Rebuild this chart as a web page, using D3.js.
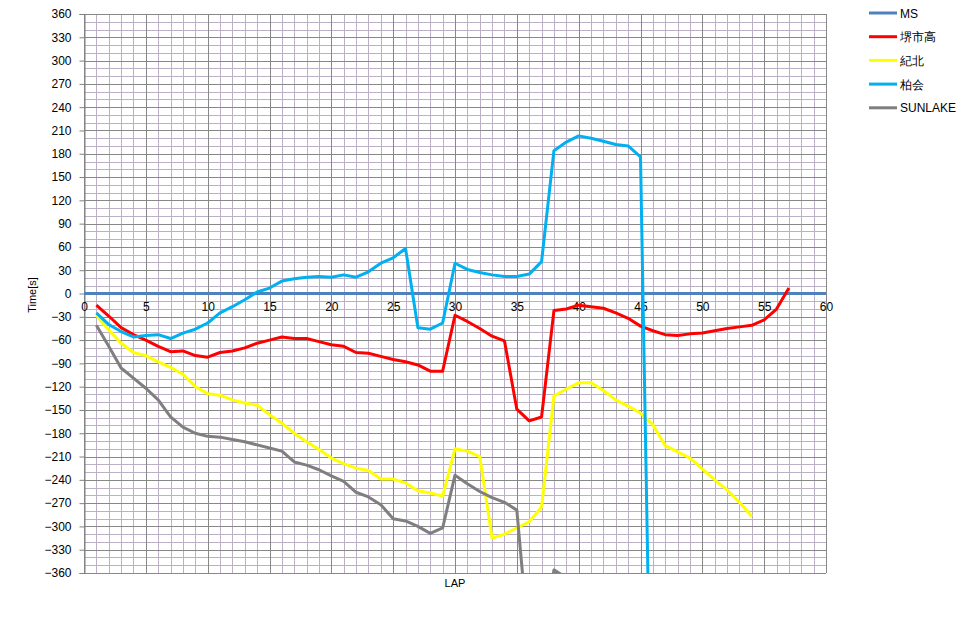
<!DOCTYPE html>
<html>
<head>
<meta charset="utf-8">
<script src="https://cdn.jsdelivr.net/npm/d3@7/dist/d3.min.js"></script>
<style>
  body { margin: 0; background: #fff; }
  svg { display: block; }
  text { font-family: "Liberation Sans", Arial, sans-serif; fill: #000; }
</style>
</head>
<body>
<svg id="chart" width="977" height="638"></svg>
<script>
// ---- data ----
const seriesNames = ["MS", "堺市高", "紀北", "柏会", "SUNLAKE"];
const seriesColors = ["#4f81bd", "#ff0000", "#ffff00", "#00b0f0", "#7f7f7f"];
const yTicks = [360, 330, 300, 270, 240, 210, 180, 150, 120, 90, 60, 30, 0, -30, -60, -90, -120, -150, -180, -210, -240, -270, -300, -330, -360];
const xTicks = [0, 5, 10, 15, 20, 25, 30, 35, 40, 45, 50, 55, 60];

// MS starts at lap 0, the others at lap 1
const msValues = [0,0,0,0,0,0,0,0,0,0, 0,0,0,0,0,0,0,0,0,0, 0,0,0,0,0,0,0,0,0,0,
                  0,0,0,0,0,0,0,0,0,0, 0,0,0,0,0,0,0,0,0,0, 0,0,0,0,0,0,0,0,0,0, 0];
const sakaiValues = [-15,-29,-44,-53,-60,-68,-75,-74,-80,-82,
                     -76,-74,-70,-64,-60,-56,-58,-58,-62,-66,
                     -68,-76,-77,-81,-85,-88,-92,-100,-100,-28,
                     -36,-45,-55,-61,-149,-164,-159,-22,-20,-15,
                     -17,-19,-25,-32,-42,-48,-53,-54,-52,-51,
                     -48,-45,-43,-41,-34,-20,7];
const kihokuValues = [-28,-47,-64,-76,-80,-88,-95,-104,-120,-129,
                      -131,-137,-141,-144,-156,-167,-180,-191,-201,-212,
                      -219,-225,-228,-239,-239,-244,-254,-257,-261,-200,
                      -203,-210,-315,-310,-302,-294,-275,-132,-123,-115,
                      -115,-125,-137,-145,-154,-169,-196,-204,-212,-226,
                      -240,-253,-269,-287];
const kashiwaValues = [-25,-40,-49,-56,-54,-53,-58,-51,-46,-38,
                       -25,-17,-8,2,7,16,19,21,22,21,
                       24,21,28,39,46,58,-44,-46,-38,39,
                       31,27,24,22,22,25,41,184,195,203,
                       200,196,192,190,176,-720];
const sunlakeValues = [-41,-68,-96,-109,-122,-137,-159,-172,-180,-184,
                       -185,-188,-191,-195,-199,-203,-217,-221,-227,-235,
                       -242,-256,-262,-272,-290,-293,-300,-309,-302,-234,
                       -245,-255,-263,-269,-279,-457,-460,-356,-366];
const seriesValues = [msValues, sakaiValues, kihokuValues, kashiwaValues, sunlakeValues];
const seriesStart = [0, 1, 1, 1, 1];

// ---- layout ----
const svg = d3.select("#chart");
const x = d3.scaleLinear().domain([0, 60]).range([84, 826]);
const y = d3.scaleLinear().domain([-360, 360]).range([573, 14]);

// gridlines
const g = svg.append("g");
const minorX = d3.range(0, 61).filter(v => v % 5 !== 0);
const minorY = d3.range(-360, 361, 10).filter(v => v % 30 !== 0);
const minorColor = "#bcb0c6";
const majorColor = "#878787";
g.selectAll(".mx").data(minorX).join("line")
  .attr("x1", d => Math.round(x(d)) + 0.5).attr("x2", d => Math.round(x(d)) + 0.5)
  .attr("y1", y(360)).attr("y2", y(-360))
  .attr("stroke", minorColor).attr("stroke-width", 1);
g.selectAll(".my").data(minorY).join("line")
  .attr("y1", d => Math.round(y(d)) + 0.5).attr("y2", d => Math.round(y(d)) + 0.5)
  .attr("x1", x(0)).attr("x2", x(60))
  .attr("stroke", minorColor).attr("stroke-width", 1);
g.selectAll(".Mx").data(xTicks).join("line")
  .attr("x1", d => Math.round(x(d)) + 0.5).attr("x2", d => Math.round(x(d)) + 0.5)
  .attr("y1", y(360)).attr("y2", y(-360))
  .attr("stroke", majorColor).attr("stroke-width", 1);
g.selectAll(".My").data(yTicks).join("line")
  .attr("y1", d => Math.round(y(d)) + 0.5).attr("y2", d => Math.round(y(d)) + 0.5)
  .attr("x1", x(0)).attr("x2", x(60))
  .attr("stroke", majorColor).attr("stroke-width", 1);

// y axis
const yAxis = d3.axisLeft(y).tickValues(yTicks).tickSize(5).tickPadding(8);
const ya = svg.append("g").attr("transform", `translate(${Math.round(x(0)) + 0.5},0)`).call(yAxis);
ya.select(".domain").attr("stroke", "#808080");
ya.selectAll(".tick line").attr("stroke", "#808080");
ya.selectAll("text").attr("font-size", 12).attr("font-family", "'Liberation Sans', Arial, sans-serif").attr("fill", "#000");

// x axis labels (axis crosses at 0)
const xAxis = d3.axisBottom(x).tickValues(xTicks).tickSize(0).tickPadding(9);
const xa = svg.append("g").attr("transform", `translate(0,${y(0)})`).call(xAxis);
xa.select(".domain").remove();
xa.selectAll("text").attr("font-size", 12).attr("font-family", "'Liberation Sans', Arial, sans-serif").attr("fill", "#000");

// lines
svg.append("clipPath").attr("id", "plotclip").append("rect")
  .attr("x", x(0)).attr("y", y(360)).attr("width", x(60) - x(0)).attr("height", y(-360) - y(360));
const line = d3.line().x(d => x(d[0])).y(d => y(d[1]));
const lg = svg.append("g").attr("clip-path", "url(#plotclip)");
seriesValues.forEach((vals, i) => {
  const pts = vals.map((v, j) => [j + seriesStart[i], v]);
  lg.append("path").datum(pts)
    .attr("d", line)
    .attr("fill", "none")
    .attr("stroke", seriesColors[i])
    .attr("stroke-width", 3)
    .attr("stroke-linejoin", "round");
});

// axis titles
svg.append("text").attr("transform", "translate(36,295) rotate(-90)")
  .attr("text-anchor", "middle").attr("font-size", 11).text("Time[s]");
svg.append("text").attr("x", 455).attr("y", 587)
  .attr("text-anchor", "middle").attr("font-size", 11).text("LAP");

// legend
const legend = svg.append("g");
seriesNames.forEach((name, i) => {
  const ly = 13 + i * 23.7;
  legend.append("line").attr("x1", 869).attr("x2", 897).attr("y1", ly).attr("y2", ly)
    .attr("stroke", seriesColors[i]).attr("stroke-width", 3);
  legend.append("text").attr("x", 900).attr("y", ly + 4.5).attr("font-size", 12).text(name);
});
</script>
</body>
</html>
